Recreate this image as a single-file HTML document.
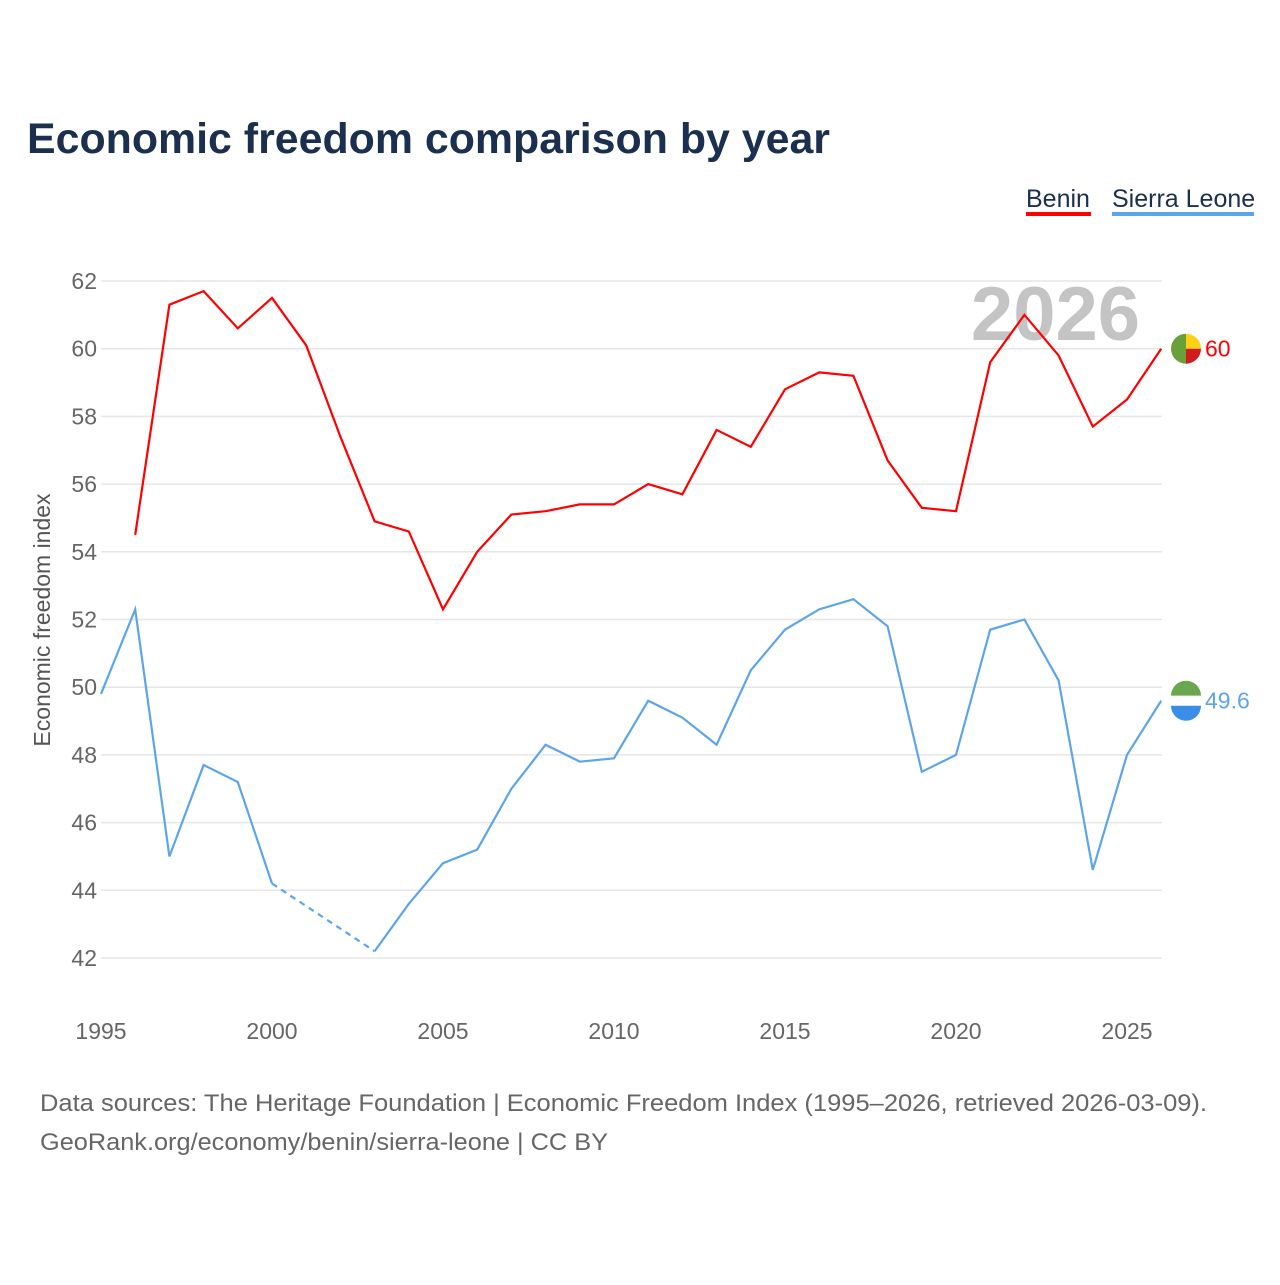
<!DOCTYPE html>
<html><head><meta charset="utf-8"><style>
body{margin:0;background:#fff;font-family:"Liberation Sans",sans-serif}
svg text{font-family:"Liberation Sans",sans-serif}
</style></head><body>
<svg id="c" width="1280" height="1280" viewBox="0 0 1280 1280">
<text x="27" y="153" font-size="43" font-weight="bold" fill="#1b2f4e" textLength="803" lengthAdjust="spacingAndGlyphs">Economic freedom comparison by year</text>
<g>
<text x="1026" y="207" font-size="25" fill="#1b2f4e">Benin</text>
<rect x="1026" y="212" width="65" height="4" fill="#f00"/>
<text x="1112" y="207" font-size="25" fill="#1b2f4e">Sierra Leone</text>
<rect x="1112" y="212" width="142" height="4" fill="#5da5ea"/>
</g>
<text x="1140" y="340" text-anchor="end" font-size="76" font-weight="bold" fill="#c4c4c4">2026</text>
<g id="grid"></g><g id="lines"></g>
<text transform="translate(50,620) rotate(-90)" text-anchor="middle" font-size="23" fill="#555">Economic freedom index</text>
<text x="40" y="1111" font-size="24" fill="#666" textLength="1167" lengthAdjust="spacingAndGlyphs">Data sources: The Heritage Foundation | Economic Freedom Index (1995–2026, retrieved 2026-03-09).</text>
<text x="40" y="1150" font-size="24" fill="#666" textLength="568" lengthAdjust="spacingAndGlyphs">GeoRank.org/economy/benin/sierra-leone | CC BY</text>
</svg>
<script>
const yTicks=[42,44,46,48,50,52,54,56,58,60,62];
const xTicks=[1995,2000,2005,2010,2015,2020,2025];
const beninYears=[1996,1997,1998,1999,2000,2001,2002,2003,2004,2005,2006,2007,2008,2009,2010,2011,2012,2013,2014,2015,2016,2017,2018,2019,2020,2021,2022,2023,2024,2025,2026];
const beninValues=[54.5,61.3,61.7,60.6,61.5,60.1,57.4,54.9,54.6,52.3,54.0,55.1,55.2,55.4,55.4,56.0,55.7,57.6,57.1,58.8,59.3,59.2,56.7,55.3,55.2,59.6,61.0,59.8,57.7,58.5,60.0];
const slYears=[1995,1996,1997,1998,1999,2000,2003,2004,2005,2006,2007,2008,2009,2010,2011,2012,2013,2014,2015,2016,2017,2018,2019,2020,2021,2022,2023,2024,2025,2026];
const slValues=[49.8,52.3,45.0,47.7,47.2,44.2,42.2,43.6,44.8,45.2,47.0,48.3,47.8,47.9,49.6,49.1,48.3,50.5,51.7,52.3,52.6,51.8,47.5,48.0,51.7,52.0,50.2,44.6,48.0,49.6];
const X=y=>101+(y-1995)*34.2, Y=v=>958-(v-42)*33.85;
const NS="http://www.w3.org/2000/svg";
const g=document.getElementById('grid'), L=document.getElementById('lines');
function mk(tag,attrs,parent){const e=document.createElementNS(NS,tag);for(const k in attrs)e.setAttribute(k,attrs[k]);parent.appendChild(e);return e;}
yTicks.forEach(v=>{
 const l=mk('line',{x1:101,x2:1162,y1:Y(v),y2:Y(v),stroke:'#e6e6e6','stroke-width':1.5},g);
 
 
 const t=mk('text',{x:97,y:Y(v)+8,'text-anchor':'end','font-size':23,fill:'#666'},g);t.textContent=v;
 
 
});
xTicks.forEach(v=>{
 const t=mk('text',{x:X(v),y:1039,'text-anchor':'middle','font-size':23,fill:'#666'},g);t.textContent=v;
 
 
});
function series(yrs,vals,col,name){
 let segs=[[0]];
 for(let i=1;i<yrs.length;i++){
  if(yrs[i]-yrs[i-1]>1){segs.push([i]);} else segs[segs.length-1].push(i);
 }
 segs.forEach((s,si)=>{
  const p=mk('polyline',{points:s.map(i=>X(yrs[i])+','+Y(vals[i])).join(' '),fill:'none',stroke:col,'stroke-width':2.2},L);
  
  
  if(si>0){const a=s[0]-1,b=s[0];
   const d=mk('line',{x1:X(yrs[a]),y1:Y(vals[a]),x2:X(yrs[b]),y2:Y(vals[b]),stroke:col,'stroke-width':2.2,'stroke-dasharray':'6,5'},L);
   
   }
 });
 const n=yrs.length-1,ly=Y(vals[n]);
 const t=mk('text',{x:1205,y:ly+8,'font-size':23,fill:col},L);t.textContent=vals[n];
 
 
 return ly;
}
const by=series(beninYears,beninValues,'#f00','benin');
const sy=series(slYears,slValues,'#5da5ea','sierra-leone');
const bf=mk('g',{},L);


mk('path',{d:`M1186 ${by} m0 -15 a15 15 0 0 0 0 30 z`,fill:'#6a9f3a'},bf);
mk('path',{d:`M1186 ${by-15} a15 15 0 0 1 15 15 h-15 z`,fill:'#fcd116'},bf);
mk('path',{d:`M1186 ${by} h15 a15 15 0 0 1 -15 15 z`,fill:'#d01c1f'},bf);
const sf=mk('g',{},L);


mk('path',{d:`M1171 ${sy-5} a15 15 0 0 1 30 0 z`,fill:'#6aa84f'},sf);
mk('rect',{x:1171,y:sy-5,width:30,height:10,fill:'#fff'},sf);
mk('path',{d:`M1171 ${sy+5} h30 a15 15 0 0 1 -30 0 z`,fill:'#3b8ee8'},sf);
</script>
</body></html>
